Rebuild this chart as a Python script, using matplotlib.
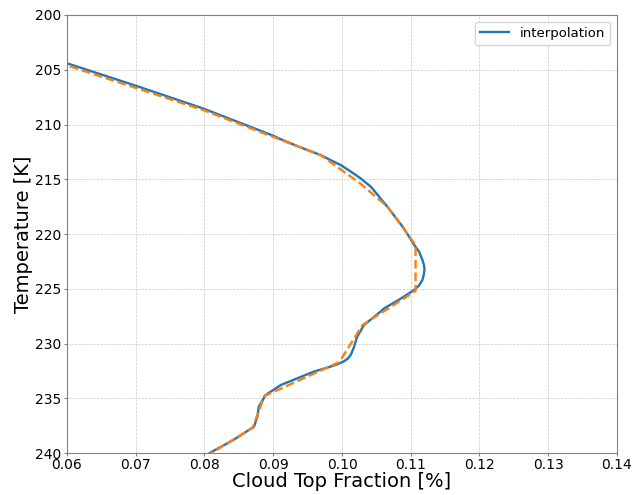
import matplotlib
matplotlib.use("Agg")
import matplotlib.pyplot as plt

# raw data (dashed)
raw_frac = [0.0570, 0.0600, 0.0799, 0.0969, 0.1027, 0.1066, 0.1107, 0.1107,
            0.1030, 0.0996, 0.0887, 0.0870, 0.0810, 0.0795]
raw_temp = [203.9, 204.6, 208.7, 212.8, 215.4, 217.5, 221.0, 225.2,
            228.3, 231.7, 234.8, 237.7, 240.0, 240.6]

# smooth interpolated curve
interp_frac = [0.0570, 0.0600, 0.0701, 0.0799, 0.0901, 0.0911, 0.0940, 0.0969,
               0.0983, 0.0998, 0.1013, 0.1027, 0.1042, 0.1066, 0.1090, 0.1105,
               0.1112, 0.1117, 0.1119, 0.1120, 0.1119, 0.1117, 0.1112, 0.1105,
               0.1083, 0.1061, 0.1056, 0.1032, 0.1022, 0.1017, 0.1013, 0.1009,
               0.1003, 0.0995, 0.0983, 0.0959, 0.0911, 0.0889, 0.0879, 0.0877,
               0.0872, 0.0842, 0.0811, 0.0795]
interp_temp = [203.75, 204.41, 206.48, 208.56, 211.05, 211.35, 212.10, 212.79,
               213.24, 213.70, 214.31, 214.92, 215.68, 217.51, 219.48, 221.00,
               221.60, 222.37, 222.80, 223.20, 223.70, 224.20, 224.70, 225.11,
               226.00, 226.80, 227.09, 228.31, 229.38, 230.40, 231.00, 231.35,
               231.62, 231.85, 232.12, 232.57, 233.79, 234.70, 235.77, 236.68,
               237.60, 238.81, 239.88, 240.50]

xticks = [0.06, 0.07, 0.08, 0.09, 0.10, 0.11, 0.12, 0.13, 0.14]
yticks = [200, 205, 210, 215, 220, 225, 230, 235, 240]

fig = plt.figure(figsize=(6.32, 4.95), dpi=100)
ax = fig.add_axes([67/632, 1 - 453/495, 550/632, 438/495])

ax.plot(interp_frac, interp_temp, color="#1f77b4", lw=1.7, label="interpolation",
        solid_joinstyle="round")
ax.plot(raw_frac, raw_temp, color="#ff7f0e", lw=1.7, ls="--")

ax.set_xlim(0.06, 0.14)
ax.set_ylim(240, 200)
ax.set_xticks(xticks)
ax.set_yticks(yticks)
ax.set_xticklabels(["%.2f" % v for v in xticks])
ax.tick_params(labelsize=10, color="#808080", length=2.2, pad=1.6)
for s in ax.spines.values():
    s.set_color("#808080")
ax.grid(True, ls="--", lw=0.5, color="#c8c8c8")

ax.set_xlabel("Cloud Top Fraction [%]", fontsize=14, labelpad=0)
ax.set_ylabel("Temperature [K]", fontsize=14, labelpad=2)
ax.legend(loc="upper right", fontsize=9.5, handlelength=2.2)

fig.savefig("out.png", dpi=100)
